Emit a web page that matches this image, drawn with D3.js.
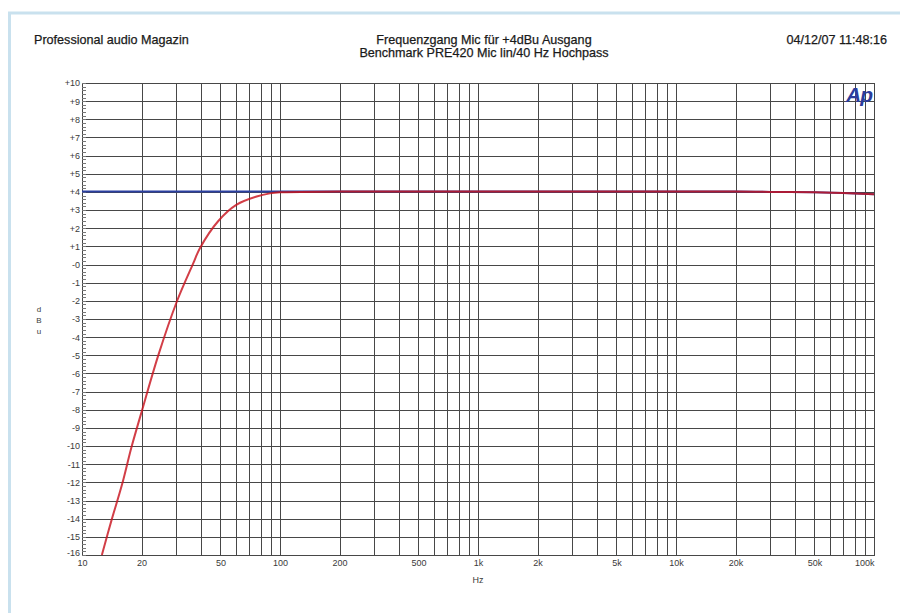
<!DOCTYPE html>
<html><head><meta charset="utf-8">
<script src="https://cdn.jsdelivr.net/npm/d3@7"></script>
<style>html,body{margin:0;padding:0;background:#fff;overflow:hidden}</style>
</head><body>
<svg id="c" width="900" height="613"></svg>
<script>
// ---- data ----
const titleLeft = "Professional audio Magazin";
const titleLines = ["Frequenzgang Mic für +4dBu Ausgang", "Benchmark PRE420 Mic lin/40 Hz Hochpass"];
const dateText = "04/12/07 11:48:16";
const xTickValues = [10, 20, 50, 100, 200, 500, 1000, 2000, 5000, 10000, 20000, 50000, 100000];
const xTickLabels = ["10", "20", "50", "100", "200", "500", "1k", "2k", "5k", "10k", "20k", "50k", "100k"];
const yTickValues = d3.range(10, -17, -1);
const yTickLabels = ["+10","+9","+8","+7","+6","+5","+4","+3","+2","+1","-0","-1","-2","-3","-4","-5","-6","-7","-8","-9","-10","-11","-12","-13","-14","-15","-16"];
const blueFreq = [10, 30, 100, 1000, 10000, 20000, 30000, 50000, 70000, 100000];
const blueDb   = [4.02, 4.02, 4.02, 4.02, 4.02, 4.02, 4.0, 3.98, 3.94, 3.87];
const redFreq = [12.6, 14.1, 15.9, 17.8, 19.9, 24.3, 30.1, 36.4, 39.4, 48.8, 60.4, 76.2, 89, 100, 200, 1000, 10000, 20000, 30000, 50000, 70000, 100000];
const redDb   = [-16, -14.08, -12.15, -10.04, -8.2, -4.99, -2.05, 0.05, 0.9, 2.4, 3.3, 3.75, 3.92, 3.98, 4.02, 4.02, 4.02, 4.02, 4.0, 3.98, 3.94, 3.87];

// ---- layout ----
const L = 82, R = 874, T = 83, B = 555;
const svg = d3.select("#c");
const x = d3.scaleLog().domain([10, 100000]).range([L, R]);
const y = d3.scaleLinear().domain([-16, 10]).range([B, T]);
const FONT = "'Liberation Sans', Arial, sans-serif";
const TXT = "#1a1a1a", AX = "#3a3a3a";

// outer light-blue frame
svg.append("rect").attr("x", 9.5).attr("y", 13).attr("width", 1000).attr("height", 1000)
  .attr("fill", "none").attr("stroke", "#c9e1ee").attr("stroke-width", 3);

// titles
svg.append("text").attr("x", 34).attr("y", 44).attr("font-family", FONT).attr("font-size", 12.6)
  .attr("fill", TXT).attr("stroke", TXT).attr("stroke-width", 0.25).text(titleLeft);
titleLines.forEach((t, i) => {
  svg.append("text").attr("x", 484).attr("y", 44 + i * 13).attr("text-anchor", "middle")
    .attr("font-family", FONT).attr("font-size", 12.6).attr("fill", TXT)
    .attr("stroke", TXT).attr("stroke-width", 0.25).text(t);
});
svg.append("text").attr("x", 887).attr("y", 44).attr("text-anchor", "end")
  .attr("font-family", FONT).attr("font-size", 12.6).attr("fill", TXT)
  .attr("stroke", TXT).attr("stroke-width", 0.25).text(dateText);

// grid
const minorX = [];
for (let dec = 10; dec < 100000; dec *= 10) for (let k = 1; k <= 10; k++) minorX.push(dec * k);
const grid = svg.append("g").attr("stroke", "#474747").attr("stroke-width", 1).attr("shape-rendering", "crispEdges");
grid.selectAll("line.v").data(minorX).join("line").attr("class", "v")
  .attr("x1", d => Math.round(x(d)) + 0.5).attr("x2", d => Math.round(x(d)) + 0.5).attr("y1", T).attr("y2", B);
grid.selectAll("line.h").data(yTickValues).join("line").attr("class", "h")
  .attr("y1", d => Math.round(y(d)) + 0.5).attr("y2", d => Math.round(y(d)) + 0.5).attr("x1", L).attr("x2", R);
svg.append("rect").attr("x", L + 0.5).attr("y", T + 0.5).attr("width", R - L).attr("height", B - T)
  .attr("fill", "none").attr("stroke", "#474747").attr("shape-rendering", "crispEdges");

// y axis with minor ticks
const yMinor = d3.range(-16, 10.001, 0.2);
svg.append("g").attr("stroke", "#777").attr("shape-rendering", "crispEdges")
  .selectAll("line").data(yMinor).join("line")
  .attr("x1", L).attr("x2", L + 4).attr("y1", d => Math.round(y(d)) + 0.5).attr("y2", d => Math.round(y(d)) + 0.5);
const yAxis = d3.axisLeft(y).tickValues(yTickValues).tickFormat((d, i) => yTickLabels[i]).tickSize(0).tickPadding(2);
const gy = svg.append("g").attr("transform", `translate(${L},0)`).call(yAxis);
gy.select(".domain").remove();
gy.selectAll("text").attr("font-family", FONT).attr("font-size", 9).attr("fill", AX);
gy.selectAll(".tick").filter(d => d === -16).select("text").attr("dy", "0.05em");

// x axis
const xAxis = d3.axisBottom(x).tickValues(xTickValues).tickFormat((d, i) => xTickLabels[i]).tickSize(0).tickPadding(5);
const gx = svg.append("g").attr("transform", `translate(0,${B})`).call(xAxis);
gx.select(".domain").remove();
gx.selectAll("text").attr("font-family", FONT).attr("font-size", 9).attr("fill", AX);
gx.selectAll(".tick").filter(d => d === 100000).select("text").attr("text-anchor", "end").attr("x", 0);
svg.append("text").attr("x", x(1000)).attr("y", 583).attr("text-anchor", "middle")
  .attr("font-family", FONT).attr("font-size", 9).attr("fill", AX).text("Hz");

// y label stacked
["d", "B", "u"].forEach((c, i) => {
  svg.append("text").attr("x", 39).attr("y", 312 + i * 11).attr("text-anchor", "middle")
    .attr("font-family", FONT).attr("font-size", 8).attr("fill", AX).text(c);
});

// Ap logo
svg.append("text").attr("x", 872).attr("y", 102).attr("text-anchor", "end")
  .attr("font-family", FONT).attr("font-size", 21).attr("font-style", "italic").attr("font-weight", "bold")
  .attr("fill", "#2b3d9c").attr("letter-spacing", -1).text("Ap");

// curves
const line = d3.line().x(d => x(d[0])).y(d => y(d[1])).curve(d3.curveCatmullRom.alpha(0.5));
svg.append("path").datum(blueFreq.map((f, i) => [f, blueDb[i]])).attr("d", line)
  .attr("fill", "none").attr("stroke", "#2a3fa0").attr("stroke-width", 2);
svg.append("path").datum(redFreq.map((f, i) => [f, redDb[i]])).attr("d", line)
  .attr("fill", "none").attr("stroke", "#c8141e").attr("stroke-width", 2).attr("stroke-opacity", 0.82);
</script>
</body></html>
